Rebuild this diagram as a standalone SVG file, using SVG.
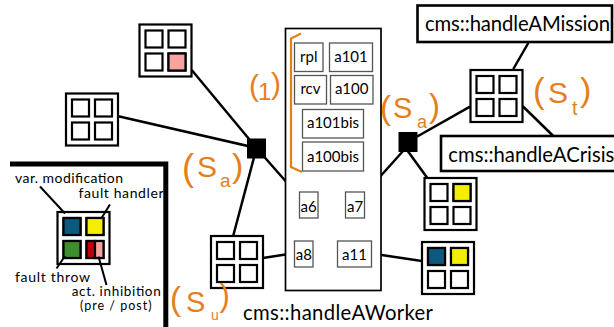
<svg xmlns="http://www.w3.org/2000/svg" xmlns:xlink="http://www.w3.org/1999/xlink" width="614" height="327" viewBox="0 0 614 327">
<style>
.go{fill:#fff;stroke:#000;stroke-width:2.2}
.gc{fill:#fff;stroke:#000;stroke-width:2.2}
.blue{fill:#0b5a7e}
.yellow{fill:#f4ef00}
.green{fill:#3f8e2d}
.red{fill:#c2000a}
.pink{fill:#f8a3a0}
.cell{stroke:#000;stroke-width:2.2}
.con{stroke:#000;stroke-width:2.5;fill:none}
.ptr{stroke:#000;stroke-width:2;fill:none}
.bx{fill:#fff;stroke:#555;stroke-width:1.3}
.tbox{fill:#fff;stroke:#000;stroke-width:2.6}
.t{font-family:Lato,"Liberation Sans",sans-serif;fill:#000}
.bt{font-size:15px;text-anchor:middle}
.tt{font-size:20.3px}
.lg{font-size:14px}
.hw{font-family:"Liberation Sans",Arial,sans-serif;fill:#e4801c}
</style>
<defs>
<g id="grid">
<rect class="go" x="0" y="0" width="52" height="52"/>
<rect class="gc" x="6" y="6" width="17" height="17"/>
<rect class="gc" x="29" y="6" width="17" height="17"/>
<rect class="gc" x="6" y="29" width="17" height="17"/>
<rect class="gc" x="29" y="29" width="17" height="17"/>
</g>
</defs>
<rect width="614" height="327" fill="#fff"/>

<g id="connectors">
<line class="con" x1="191.7" y1="70" x2="256.5" y2="148"/>
<line class="con" x1="117.3" y1="116" x2="256.5" y2="148"/>
<line class="con" x1="256.5" y1="148" x2="299.5" y2="197"/>
<line class="con" x1="256.5" y1="148" x2="233.3" y2="235.5"/>
<line class="con" x1="263" y1="258" x2="295" y2="253"/>
<line class="con" x1="404" y1="150" x2="364" y2="194.5"/>
<line class="con" x1="407.5" y1="142" x2="470" y2="106.7"/>
<line class="con" x1="407" y1="150" x2="427" y2="177.5"/>
<line class="con" x1="371.7" y1="253.5" x2="421.7" y2="261"/>
<line class="con" x1="513.3" y1="69" x2="528.3" y2="43"/>
<line class="con" x1="522.5" y1="106" x2="553.3" y2="136"/>
</g>

<g id="worker">
<rect x="285.5" y="28.5" width="95.5" height="262" fill="#fff" stroke="#000" stroke-width="1.7"/>
<text class="t tt" x="243" y="319.5" textLength="190">cms::handleAWorker</text>
</g>
<path id="bracket" d="M301,33.5 L291,38.5 L291,167 L302,172" fill="none" stroke="#e4801c" stroke-width="2.2"/>

<g id="rpl"><rect class="bx" x="294.5" y="43" width="28.5" height="28.5"/><text class="t bt" x="308.8" y="61.7">rpl</text></g>
<g id="a101"><rect class="bx" x="329.5" y="43" width="43" height="28.5"/><text class="t bt" x="351" y="61.7">a101</text></g>
<g id="rcv"><rect class="bx" x="294.5" y="75.5" width="32" height="28.5"/><text class="t bt" x="310.5" y="94">rcv</text></g>
<g id="a100"><rect class="bx" x="330.5" y="75.5" width="42.5" height="28.5"/><text class="t bt" x="351.7" y="94">a100</text></g>
<g id="a101bis"><rect class="bx" x="302.5" y="109.5" width="61" height="28.5"/><text class="t bt" x="333" y="128.3">a101bis</text></g>
<g id="a100bis"><rect class="bx" x="302.5" y="142" width="61" height="29"/><text class="t bt" x="333" y="161.6">a100bis</text></g>
<g id="a6"><rect class="bx" x="299.5" y="192" width="18.5" height="26"/><text class="t bt" x="308.7" y="211.7">a6</text></g>
<g id="a7"><rect class="bx" x="345.5" y="192" width="19" height="26"/><text class="t bt" x="355" y="211.7">a7</text></g>
<g id="a8"><rect class="bx" x="294.5" y="241" width="18.5" height="26"/><text class="t bt" x="303.8" y="260">a8</text></g>
<g id="a11"><rect class="bx" x="337.5" y="241" width="34" height="26"/><text class="t bt" x="354.5" y="260">a11</text></g>

<g id="junction-left"><rect x="247" y="138.5" width="19" height="20" fill="#000"/></g>
<g id="junction-right"><rect x="398.5" y="132" width="19" height="20" fill="#000"/></g>

<g id="grid-pink" transform="translate(139.5,24.5)"><use xlink:href="#grid"/><rect class="cell pink" x="29" y="29" width="17" height="17"/></g>
<g id="grid-left" transform="translate(66,93.5)"><use xlink:href="#grid"/></g>
<g id="grid-su" transform="translate(211,236)"><use xlink:href="#grid"/></g>
<g id="grid-st" transform="translate(470.5,70)"><use xlink:href="#grid"/></g>
<g id="grid-yellow" transform="translate(424.5,178)"><use xlink:href="#grid"/><rect class="cell yellow" x="29" y="6" width="17" height="17"/></g>
<g id="grid-blue-yellow" transform="translate(422,242)"><use xlink:href="#grid"/><rect class="cell blue" x="6" y="6" width="17" height="17"/><rect class="cell yellow" x="29" y="6" width="17" height="17"/></g>

<g id="mission"><rect class="tbox" x="417.5" y="5.5" width="194.5" height="36.5"/><text class="t tt" x="425" y="31" textLength="185">cms::handleAMission</text></g>
<g id="crisis"><rect class="tbox" x="441" y="136" width="190" height="35"/><text class="t tt" x="448.3" y="161.7" textLength="166">cms::handleACrisis</text></g>

<g id="legend">
<path d="M10,164 H165.8 V327" fill="none" stroke="#000" stroke-width="5"/>
<g transform="translate(57.5,212)"><use xlink:href="#grid"/>
<rect class="cell blue" x="6" y="6" width="17" height="17"/>
<rect class="cell yellow" x="29" y="6" width="17" height="17"/>
<rect class="cell green" x="6" y="29" width="17" height="17"/>
<rect class="cell red" x="29" y="29" width="8.5" height="17"/>
<rect class="cell pink" x="37.5" y="29" width="8.5" height="17"/>
</g>
<line class="ptr" x1="40" y1="186.5" x2="65" y2="213.5"/>
<line class="ptr" x1="110" y1="204.5" x2="101.5" y2="218"/>
<line class="ptr" x1="56.5" y1="268.5" x2="65" y2="256"/>
<line class="ptr" x1="106.5" y1="285" x2="98.5" y2="256.5"/>
<text class="t lg" x="15" y="182.5" textLength="108">var. modification</text>
<text class="t lg" x="78.5" y="198" textLength="85">fault handler</text>
<text class="t lg" x="15" y="281.5" textLength="75">fault throw</text>
<text class="t" x="71.7" y="296" font-size="13.5" textLength="89">act. inhibition</text>
<text class="t" x="80" y="309.5" font-size="12.5" textLength="71.5">(pre / post)</text>
</g>

<text id="label-1" class="hw"><tspan x="249" y="96" font-size="30">(</tspan><tspan x="258" y="100" font-size="24">1</tspan><tspan x="271" y="94" font-size="30">)</tspan></text>
<text id="label-sa-left" class="hw"><tspan x="182" y="180" font-size="36">(</tspan><tspan x="197" y="177" font-size="30">S</tspan><tspan x="220" y="187" font-size="19">a</tspan><tspan x="232" y="177" font-size="34">)</tspan></text>
<text id="label-sa-right" class="hw"><tspan x="380" y="119" font-size="33">(</tspan><tspan x="393" y="118" font-size="29">S</tspan><tspan x="417" y="128" font-size="18">a</tspan><tspan x="429" y="117" font-size="33">)</tspan></text>
<text id="label-st" class="hw"><tspan x="533" y="103" font-size="35">(</tspan><tspan x="548" y="103" font-size="30">S</tspan><tspan x="572" y="115" font-size="20">t</tspan><tspan x="580" y="101" font-size="34">)</tspan></text>
<text id="label-su" class="hw"><tspan x="170" y="310" font-size="33">(</tspan><tspan x="186" y="311.7" font-size="29">S</tspan><tspan x="211" y="320" font-size="14">u</tspan><tspan x="219.5" y="306" font-size="31">)</tspan></text>
</svg>
